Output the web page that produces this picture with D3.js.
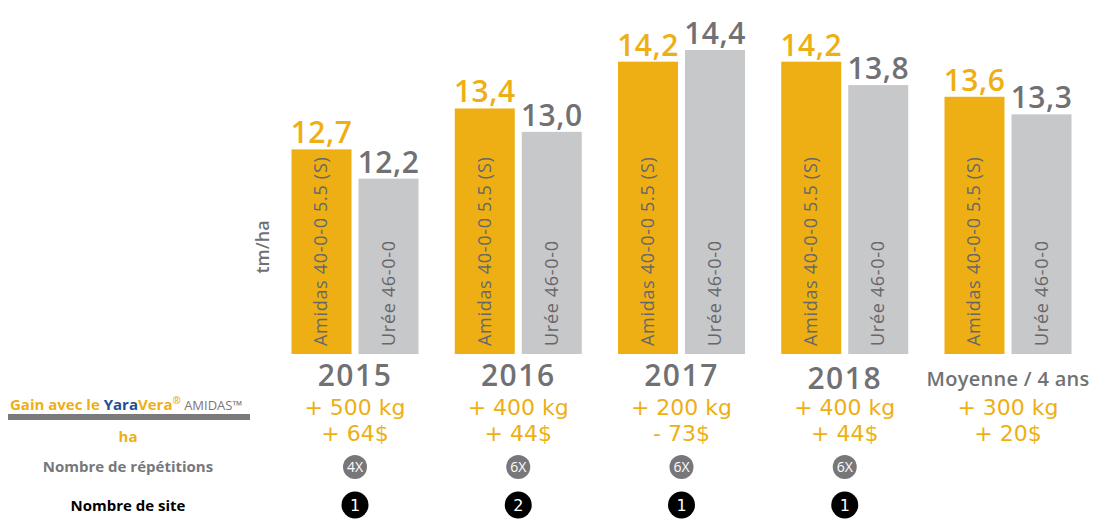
<!DOCTYPE html>
<html>
<head>
<meta charset="utf-8">
<script src="https://cdn.jsdelivr.net/npm/d3@7"></script>
<style>
  body { margin: 0; background: #fff; }
  text { font-family: "Open Sans", sans-serif; }
  .wide { font-family: "DejaVu Sans", sans-serif; }
</style>
</head>
<body>
<svg id="chart" width="1109" height="519"></svg>
<script>
// data
var years = ["2015", "2016", "2017", "2018", "Moyenne / 4 ans"];
var products = ["Amidas 40-0-0 5.5 (S)", "Urée 46-0-0"];
var amidas = [12.7, 13.4, 14.2, 14.2, 13.6];
var uree = [12.2, 13.0, 14.4, 13.8, 13.3];
var gainKg = ["+ 500 kg", "+ 400 kg", "+ 200 kg", "+ 400 kg", "+ 300 kg"];
var gainDollar = ["+ 64$", "+ 44$", "- 73$", "+ 44$", "+ 20$"];
var repetitions = ["4X", "6X", "6X", "6X", null];
var sites = ["1", "2", "1", "1", null];

var orange = "#eeaf14", grey = "#c7c8ca", darkGrey = "#717174";

var svg = d3.select("#chart");

var rows = years.map(function(y, i) {
  return { year: y, values: [amidas[i], uree[i]], kg: gainKg[i], dol: gainDollar[i], rep: repetitions[i], site: sites[i] };
});

var x0 = d3.scalePoint().domain(years).range([355, 1008]);
var x1 = d3.scaleBand().domain(products).range([-63.5, 63.5]).paddingInner(0.1045);
var y = d3.scaleLinear().domain([9.2, 14.4]).range([354, 50]);

var group = svg.selectAll(".grp")
  .data(rows)
  .enter().append("g")
    .attr("class", "grp")
    .attr("transform", function(d) { return "translate(" + x0(d.year) + ",0)"; });

var bar = group.selectAll(".bar")
  .data(function(d) { return d.values.map(function(v, k) { return { p: products[k], v: v, k: k }; }); })
  .enter().append("g")
    .attr("class", "bar");

bar.append("rect")
  .attr("x", function(d) { return x1(d.p); })
  .attr("y", function(d) { return y(d.v); })
  .attr("width", x1.bandwidth())
  .attr("height", function(d) { return y.range()[0] - y(d.v); })
  .attr("fill", function(d) { return d.k == 0 ? orange : grey; });

// value above each bar
bar.append("text")
  .attr("x", function(d) { return x1(d.p) + x1.bandwidth() / 2; })
  .attr("y", function(d) { return y(d.v) - 6; })
  .attr("text-anchor", "middle")
  .attr("font-size", 30)
  .attr("font-weight", 600)
  .attr("letter-spacing", 0.5)
  .attr("fill", function(d) { return d.k == 0 ? orange : darkGrey; })
  .text(function(d) { return d3.format(".1f")(d.v).replace(".", ","); });

// product name inside the bar
bar.append("text")
  .attr("transform", function(d) {
    return "translate(" + (x1(d.p) + x1.bandwidth() / 2 + 6) + "," + (y.range()[0] - 8) + ") rotate(-90)";
  })
  .attr("font-size", 18)
  .attr("letter-spacing", 0.7)
  .attr("fill", "#67676a")
  .text(function(d) { return d.p; });

// category labels under the bars
group.append("text")
  .attr("y", function(d, i) { return i == 4 ? 386 : (i == 3 ? 389 : 386); })
  .attr("text-anchor", "middle")
  .attr("font-size", function(d, i) { return i == 4 ? 20 : 30; })
  .attr("letter-spacing", function(d, i) { return i == 4 ? 0.3 : 1.5; })
  .attr("font-weight", 600)
  .attr("fill", darkGrey)
  .text(function(d) { return d.year; });

group.append("text")
  .attr("class", "wide")
  .attr("y", 415)
  .attr("text-anchor", "middle")
  .attr("font-size", 22)
  .attr("fill", orange)
  .text(function(d) { return d.kg; });

group.append("text")
  .attr("class", "wide")
  .attr("y", 441)
  .attr("text-anchor", "middle")
  .attr("font-size", 22)
  .attr("fill", orange)
  .text(function(d) { return d.dol; });

var rep = group.filter(function(d) { return d.rep; });
rep.append("circle").attr("cy", 467).attr("r", 12).attr("fill", "#77777a");
rep.append("text")
  .attr("y", 472)
  .attr("text-anchor", "middle")
  .attr("font-size", 14)
  .attr("fill", "#fff")
  .text(function(d) { return d.rep; });

var site = group.filter(function(d) { return d.site; });
site.append("circle").attr("cy", 505).attr("r", 13.5).attr("fill", "#000");
site.append("text")
  .attr("class", "wide")
  .attr("y", 511)
  .attr("text-anchor", "middle")
  .attr("font-size", 16)
  .attr("fill", "#fff")
  .text(function(d) { return d.site; });

// y axis title
svg.append("text")
  .attr("transform", "translate(269,247) rotate(-90)")
  .attr("text-anchor", "middle")
  .attr("font-size", 18)
  .attr("font-weight", 600)
  .attr("fill", darkGrey)
  .text("tm/ha");

// left hand row titles
var gain = svg.append("text")
  .attr("x", 10)
  .attr("y", 410)
  .attr("font-size", 15)
  .attr("font-weight", 700)
  .attr("fill", orange);
gain.append("tspan").text("Gain avec le ");
gain.append("tspan").attr("fill", "#1c4f94").text("Yara");
gain.append("tspan").text("Vera");
gain.append("tspan").attr("font-size", 10).attr("dy", -6).text("®");
gain.append("tspan").attr("dy", 6).attr("font-size", 13).attr("font-weight", 400).attr("fill", "#7d7675").text(" AMIDAS™");

svg.append("rect")
  .attr("x", 8).attr("y", 414).attr("width", 242).attr("height", 6)
  .attr("fill", "#7a7a7c");

svg.append("text")
  .attr("x", 128).attr("y", 442)
  .attr("text-anchor", "middle")
  .attr("font-size", 15).attr("font-weight", 700)
  .attr("fill", orange)
  .text("ha");

svg.append("text")
  .attr("x", 128).attr("y", 472)
  .attr("text-anchor", "middle")
  .attr("font-size", 15).attr("font-weight", 700)
  .attr("fill", "#77777a")
  .text("Nombre de répétitions");

svg.append("text")
  .attr("x", 128).attr("y", 511)
  .attr("text-anchor", "middle")
  .attr("font-size", 15).attr("font-weight", 700)
  .attr("fill", "#000")
  .text("Nombre de site");
</script>
</body>
</html>
